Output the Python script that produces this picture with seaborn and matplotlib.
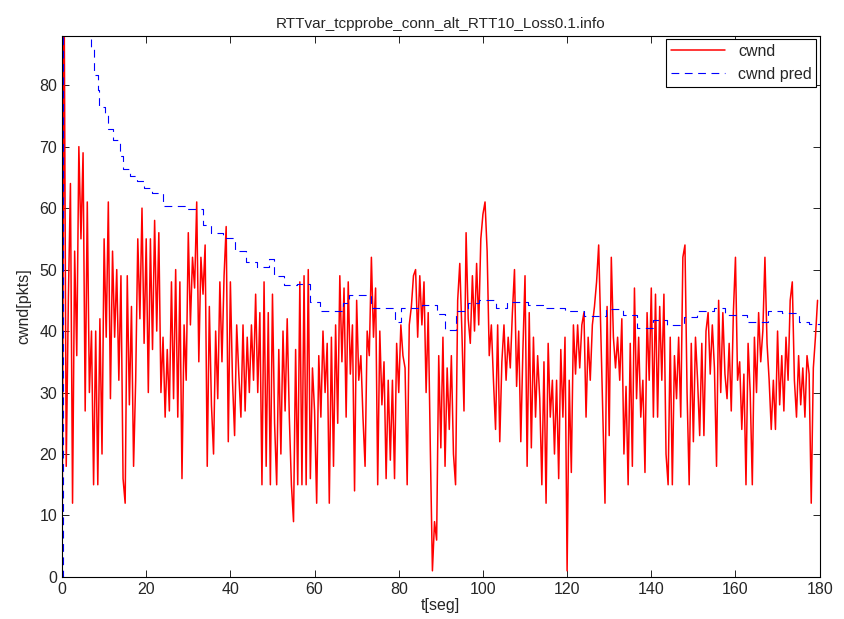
import numpy as np
import pandas as pd
import seaborn as sns
import matplotlib.pyplot as plt

cwnd = [
    0, 95, 18, 45, 64, 12, 53, 36, 70, 55, 69, 27, 61, 30, 40, 15, 40, 15, 42, 20,
    55, 39, 61, 29, 53, 39, 50, 32, 49, 16, 12, 49, 28, 44, 18, 32, 55, 42, 60, 38,
    55, 30, 55, 37, 58, 40, 56, 30, 39, 26, 37, 27, 48, 29, 50, 26, 48, 16, 41, 32,
    56, 41, 52, 47, 61, 35, 52, 46, 54, 18, 44, 28, 20, 40, 29, 48, 35, 49, 57, 22,
    48, 32, 23, 41, 33, 26, 41, 27, 39, 30, 41, 32, 46, 30, 43, 15, 48, 18, 43, 15,
    46, 25, 15, 37, 20, 40, 27, 42, 26, 15, 9, 37, 15, 48, 15, 49, 15, 50, 16, 34,
    27, 12, 36, 26, 40, 30, 38, 12, 39, 18, 41, 25, 49, 35, 47, 26, 48, 33, 41, 14,
    45, 32, 36, 26, 18, 40, 36, 52, 39, 47, 15, 40, 28, 35, 16, 32, 19, 32, 16, 38,
    30, 41, 36, 34, 15, 41, 44, 49, 50, 39, 49, 41, 48, 30, 43, 21, 1, 9, 6, 36,
    21, 39, 18, 34, 24, 36, 20, 15, 45, 51, 40, 27, 56, 42, 38, 49, 40, 51, 41, 55,
    59, 61, 53, 36, 41, 32, 24, 41, 22, 35, 41, 32, 39, 34, 43, 50, 31, 40, 22, 37,
    49, 18, 43, 21, 39, 26, 36, 29, 15, 35, 12, 38, 26, 32, 20, 32, 16, 37, 26, 39,
    1, 32, 17, 41, 33, 41, 34, 41, 43, 26, 39, 32, 41, 44, 48, 54, 40, 26, 12, 44,
    23, 52, 39, 34, 39, 32, 42, 20, 31, 15, 38, 18, 47, 29, 39, 26, 32, 17, 43, 32,
    47, 26, 46, 26, 44, 32, 46, 20, 15, 39, 15, 36, 29, 39, 26, 52, 54, 30, 15, 38,
    22, 39, 32, 23, 38, 23, 40, 43, 33, 41, 34, 18, 45, 30, 43, 33, 29, 38, 27, 43,
    52, 32, 35, 24, 33, 15, 38, 30, 15, 39, 30, 43, 35, 40, 52, 38, 32, 24, 32, 24,
    40, 28, 36, 27, 39, 32, 45, 48, 32, 26, 36, 28, 34, 26, 36, 33, 12, 34, 39, 45,
]
cwnd_t = np.arange(len(cwnd)) * 0.5

# prediccion (escalones)
pred_t = [0, 0.2, 6.8, 7.0, 7.7, 8.5, 8.9, 10.2, 11.0, 12.2, 13.8, 14.6, 16.2, 17.8,
          19.4, 21.3, 24.0, 29.2, 33.4, 35.4, 38.2, 41.0, 43.8, 46.4, 49.2, 50.4,
          52.8, 55.8, 58.8, 61.2, 66.8, 68.2, 73.4, 79.0, 80.6, 85.6, 89.2, 91.0,
          93.6, 96.4, 99.0, 103.2, 105.8, 110.8, 114.6, 119.6, 124.0, 129.2, 133.2,
          136.5, 140.5, 143.8, 147.8, 150.8, 155.0, 157.4, 162.8, 167.8, 171.0,
          175.2, 177.4, 180.0]
pred = [0, 200, 95, 86, 81.6, 79.2, 76.4, 75.3, 72.8, 71.0, 68.5, 66.3, 65.3, 64.4,
        63.3, 62.4, 60.3, 59.8, 57.3, 56.0, 55.2, 53.0, 51.2, 50.5, 51.8, 48.9,
        47.5, 47.7, 44.8, 43.3, 44.5, 45.8, 43.8, 41.5, 43.8, 44.3, 42.8, 40.2,
        43.2, 44.5, 45.1, 43.7, 44.8, 44.3, 43.8, 43.3, 42.5, 43.6, 42.6,
        40.5, 41.8, 41.0, 42.3, 43.2, 43.7, 42.6, 41.5, 43.2, 43.0,
        41.5, 41.2, 41.2]

df_cwnd = pd.DataFrame({'t': cwnd_t, 'v': cwnd})
df_pred = pd.DataFrame({'t': pred_t, 'v': pred})

sns.set_theme(style='ticks')
plt.rcParams['font.family'] = ['Liberation Sans', 'DejaVu Sans']
plt.rcParams['xtick.direction'] = 'in'
plt.rcParams['ytick.direction'] = 'in'

fig = plt.figure(figsize=(8.45, 6.19), dpi=100)
ax = fig.add_axes([0.0734, 0.0679, 0.8966, 0.874])

sns.lineplot(data=df_cwnd, x='t', y='v', color='red', linewidth=1.1,
             label='cwnd', ax=ax, estimator=None)
sns.lineplot(data=df_pred, x='t', y='v', color='blue', linewidth=0.8,
             linestyle=(0, (7, 5)), drawstyle='steps-post',
             label='cwnd pred', ax=ax, estimator=None)

ax.set_xlim(0, 180)
ax.set_ylim(0, 88)
ax.set_xticks(range(0, 181, 20))
ax.set_yticks(range(0, 81, 10))
ax.tick_params(top=True, right=True, labelsize=11.5, length=5, width=0.6, color='black')
for s in ax.spines.values():
    s.set_linewidth(0.8)
    s.set_color('black')
ax.set_title('RTTvar_tcpprobe_conn_alt_RTT10_Loss0.1.info', fontsize=11)
ax.set_xlabel('t[seg]', fontsize=11.5, labelpad=1)
ax.set_ylabel('cwnd[pkts]', fontsize=11.5, labelpad=6)
leg = ax.legend(loc='upper right', fontsize=11.5, fancybox=False, framealpha=1,
                edgecolor='black', borderpad=0.3, handlelength=3.4,
                borderaxespad=0.2)
leg.get_frame().set_linewidth(0.8)

fig.savefig('out.png', dpi=100)
